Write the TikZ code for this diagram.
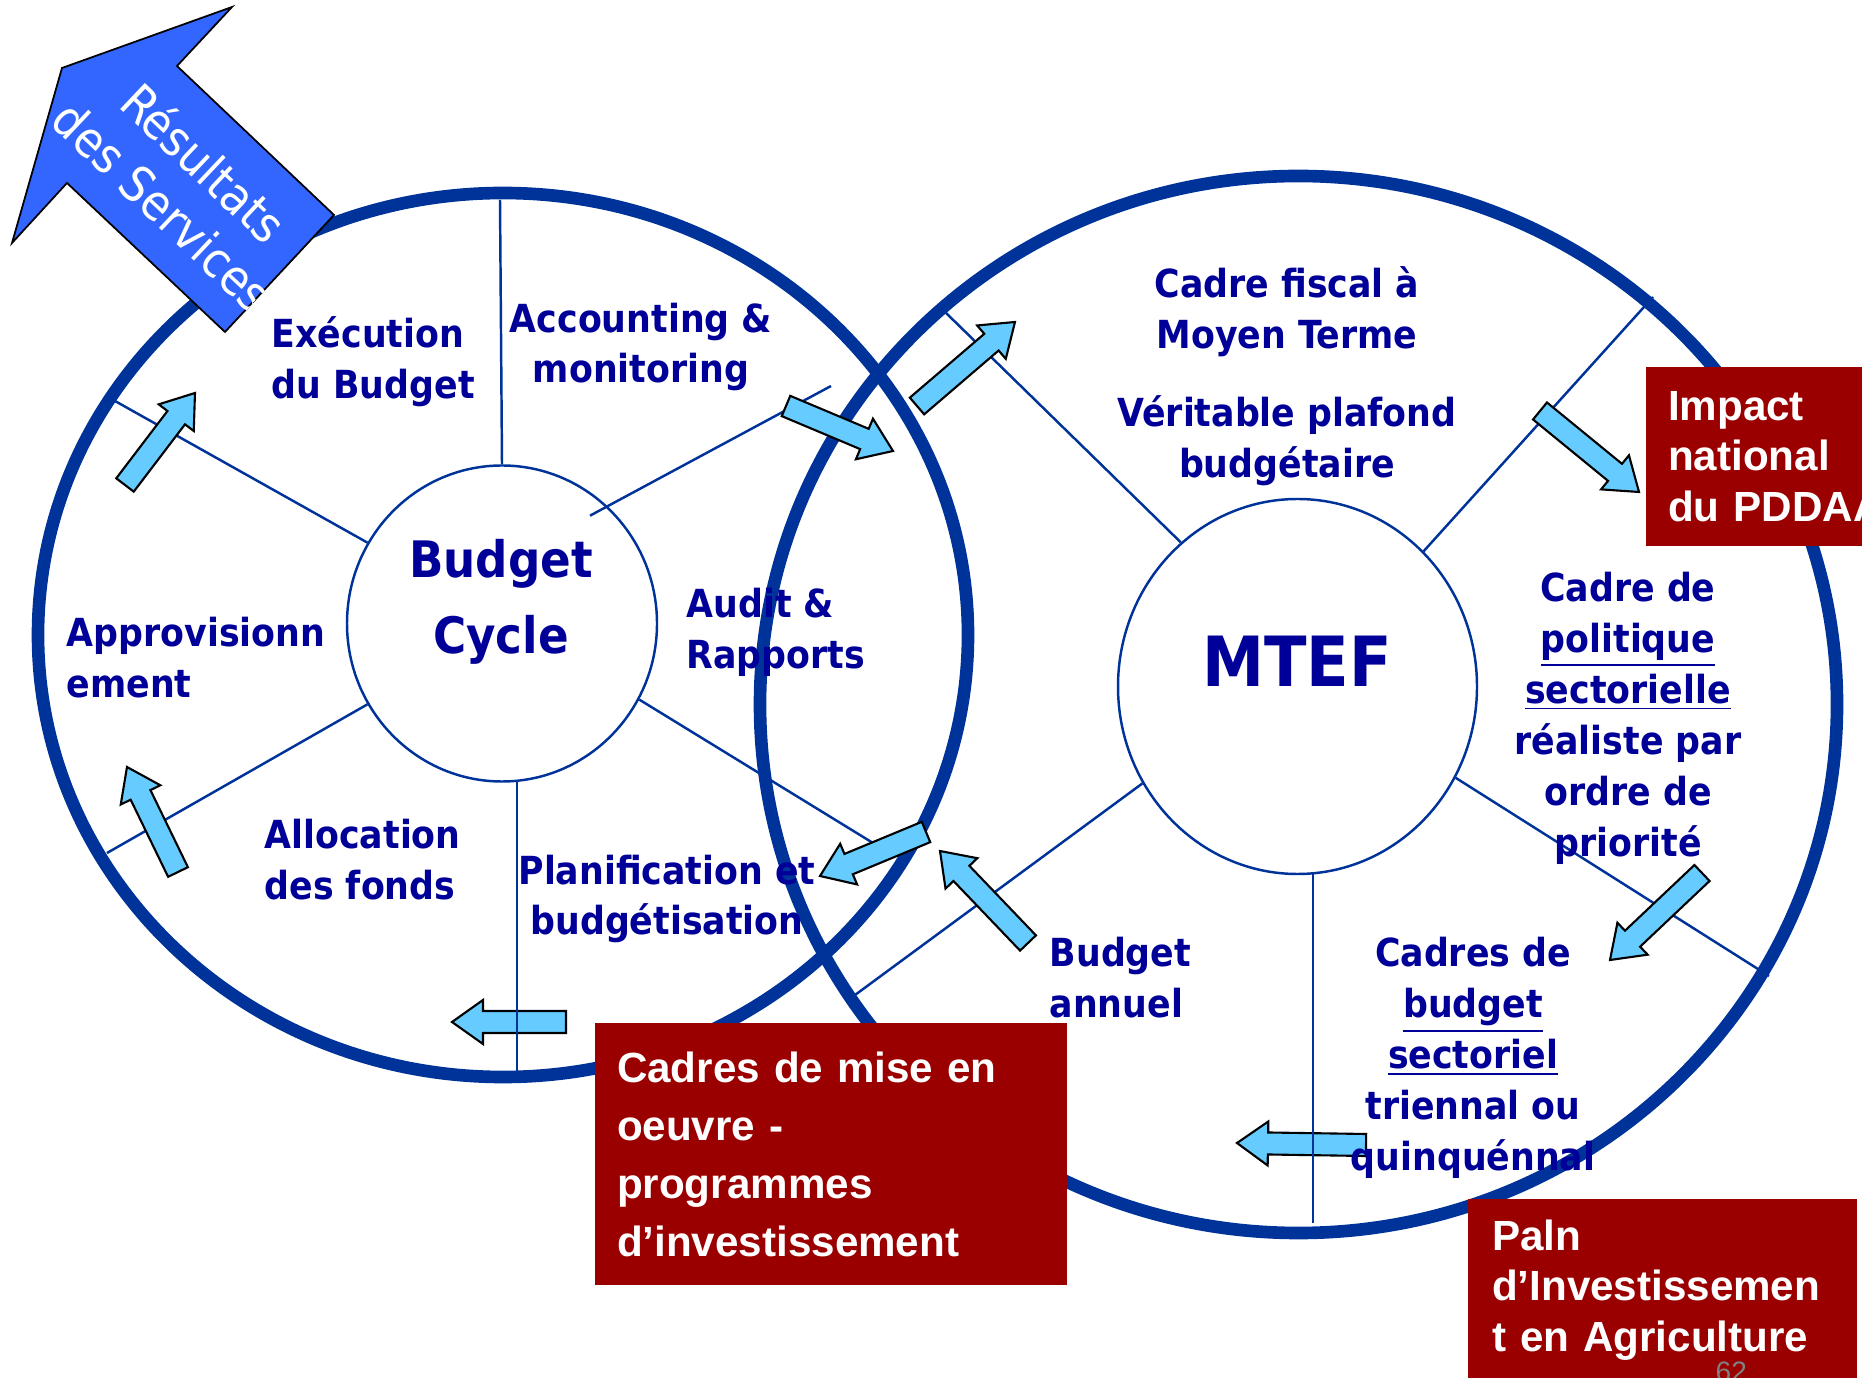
\documentclass[tikz,border=0pt]{standalone}
\usepackage{fontspec}
\usetikzlibrary{calc,shapes.geometric}
\newfontfamily\slidefont{DejaVu Sans Condensed}
\newfontfamily\boxfont{Liberation Sans}
\definecolor{ringblue}{RGB}{0,51,153}
\definecolor{textblue}{RGB}{0,0,153}
\definecolor{arrowfill}{RGB}{102,204,255}
\definecolor{resblue}{RGB}{51,102,255}
\definecolor{boxred}{RGB}{155,0,0}
\newcommand{\fahead}{0.31cm}
\newcommand{\fawing}{0.22cm}
\newcommand{\fashaft}{0.11cm}
\newcommand{\fatarrow}[2]{%
  \coordinate (fb) at ($(#2)!\fahead!(#1)$);
  \draw[fatarr] ($(#1)!\fashaft!90:(#2)$) -- ($(fb)!\fashaft!-90:(#1)$) -- ($(fb)!\fawing!-90:(#1)$) -- (#2)
    -- ($(fb)!\fawing!90:(#1)$) -- ($(fb)!\fashaft!90:(#1)$) -- ($(#1)!\fashaft!-90:(#2)$) -- cycle;}
\tikzset{
  ring/.style={draw=ringblue, line width=3.6pt},
  hub/.style={draw=ringblue, line width=0.7pt, ellipse, inner sep=0pt},
  spoke/.style={draw=ringblue, line width=0.7pt},
  lbl/.style={text=textblue, font=\slidefont\bfseries\fontsize{11}{14.5}\selectfont, inner sep=0pt},
  fatarr/.style={fill=arrowfill, draw=black, line width=0.6pt, line join=miter},
  resarr/.style={fill=resblue, draw=black, line width=0.5pt, line join=miter},
  redbox/.style={fill=boxred, text=white, font=\boxfont\bfseries\fontsize{12}{14.3}\selectfont, align=left}
}
\begin{document}
\begin{tikzpicture}[x=1cm,y=-1cm]
    \useasboundingbox (0,0) rectangle (18.62,13.78);
    \clip (0,0) rectangle (18.62,13.78);

    \coordinate (cL) at (5.03,6.35);
    \coordinate (cR) at (12.985,7.045);
    \draw[ring] (cL) ellipse [x radius=4.65, y radius=4.42];
    \draw[ring] (cR) ellipse [x radius=5.385, y radius=5.285];

    \coordinate (a3t) at (5.66,10.22);
    \coordinate (a3h) at (4.52,10.22);
    \coordinate (a8t) at (13.66,11.45);
    \coordinate (a8h) at (12.37,11.43);
    \fatarrow{a3t}{a3h}
    \fatarrow{a8t}{a8h}

    \node[hub, minimum width=3.10cm, minimum height=3.16cm] (hubL) at (5.02,6.235) {};
    \node[hub, minimum width=3.59cm, minimum height=3.75cm] (hubR) at (12.975,6.865) {};

    \coordinate (lT) at (5.00,2.00);
    \coordinate (lUL) at (1.15,4.01);
    \coordinate (lUR) at (8.31,3.86);
    \coordinate (lLL) at (1.07,8.53);
    \coordinate (lLR) at (8.73,8.43);
    \coordinate (lB) at (5.17,10.75);
    \coordinate (rUL) at (9.44,3.11);
    \coordinate (rUR) at (16.53,2.97);
    \coordinate (rLL) at (8.55,9.95);
    \coordinate (rLR) at (17.69,9.76);
    \coordinate (rB) at (13.13,12.23);

    \draw[spoke] (hubL.90) -- (lT);
    \draw[spoke] (hubL.149) -- (lUL);
    \draw[spoke] ($(hubL.48)!-0.2cm!(lUR)$) -- (lUR);
    \draw[spoke] (hubL.211) -- (lLL);
    \draw[spoke] (hubL.331) -- (lLR);
    \draw[spoke] (hubL.265 -| lB) -- (lB);
    \draw[spoke] (hubR.129) -- (rUL);
    \draw[spoke] (hubR.47) -- (rUR);
    \draw[spoke] (hubR.212) -- (rLL);
    \draw[spoke] (hubR.330) -- (rLR);
    \draw[spoke] (hubR.265 -| rB) -- (rB);

    \coordinate (a1t) at (1.25,4.85);
    \coordinate (a1h) at (1.95,3.93);
    \coordinate (a2t) at (1.78,8.72);
    \coordinate (a2h) at (1.27,7.67);
    \coordinate (a4t) at (7.86,4.06);
    \coordinate (a4h) at (8.93,4.51);
    \coordinate (a5t) at (9.17,4.06);
    \coordinate (a5h) at (10.15,3.22);
    \coordinate (a6t) at (15.40,4.11);
    \coordinate (a6h) at (16.39,4.92);
    \coordinate (a7t) at (17.02,8.73);
    \coordinate (a7h) at (16.10,9.60);
    \coordinate (a9t) at (10.28,9.43);
    \coordinate (a9h) at (9.40,8.51);
    \coordinate (a10t) at (9.26,8.32);
    \coordinate (a10h) at (8.20,8.76);
    \fatarrow{a1t}{a1h}
    \fatarrow{a2t}{a2h}
    \fatarrow{a4t}{a4h}
    \fatarrow{a5t}{a5h}
    \fatarrow{a6t}{a6h}
    \fatarrow{a7t}{a7h}
    \fatarrow{a9t}{a9h}
    \fatarrow{a10t}{a10h}

    \coordinate (r1) at (0.62,0.68);
    \coordinate (r2) at (2.32,0.07);
    \coordinate (r3) at (1.77,0.66);
    \coordinate (r4) at (3.34,2.15);
    \coordinate (r5) at (2.25,3.32);
    \coordinate (r6) at (0.67,1.83);
    \coordinate (r7) at (0.12,2.43);
    \draw[resarr] (r1) -- (r2) -- (r3) -- (r4) -- (r5) -- (r6) -- (r7) -- cycle;
    \begin{scope}
      \clip (r1) -- (r2) -- (r3) -- (r4) -- (r5) -- (r6) -- (r7) -- cycle;
      \node[rotate=-43.4, text=white, font=\slidefont\fontsize{14}{17}\selectfont, align=center, inner sep=0pt] (res) at (1.84,1.84) {Résultats\\des Services};
    \end{scope}

    \node[lbl, anchor=west, align=left] (exe) at (2.71,3.62) {Exécution\\du Budget};
    \node[lbl, align=center] (acc) at (6.41,3.47) {Accounting \&\\monitoring};
    \node[lbl, font=\slidefont\bfseries\fontsize{14.3}{21.6}\selectfont, align=center] (bcy) at (5.01,6.02) {Budget\\Cycle};
    \node[lbl, anchor=west, align=left] (aud) at (6.86,6.32) {Audit \&\\Rapports};
    \node[lbl, anchor=west, align=left] (app) at (0.66,6.58) {Approvisionn\\ement};
    \node[lbl, anchor=west, align=left] (all) at (2.64,8.60) {Allocation\\des fonds};
    \node[lbl, align=center] (pla) at (6.67,8.99) {Planification et\\budgétisation};
    \node[lbl, align=center] (cfm) at (12.87,3.12) {Cadre fiscal à\\Moyen Terme};
    \node[lbl, align=center] (vpb) at (12.87,4.41) {Véritable plafond\\budgétaire};
    \node[lbl, font=\slidefont\bfseries\fontsize{19.7}{24}\selectfont] (mtef) at (12.97,6.61) {MTEF};
    \node[lbl, align=center] (cps) at (16.28,7.18) {Cadre de\\\underline{politique}\\\underline{sectorielle}\\réaliste par\\ordre de\\priorité};
    \node[lbl, anchor=west, align=left] (ban) at (10.49,9.78) {Budget\\annuel};
    \node[lbl, align=center] (cbs) at (14.73,10.58) {Cadres de\\\underline{budget}\\\underline{sectoriel}\\triennal ou\\quinquénnal};

    \node[redbox, font=\boxfont\bfseries\fontsize{12}{16.5}\selectfont, minimum width=4.72cm, minimum height=2.62cm, text width=4.28cm, inner xsep=0.22cm] (cmo) at (8.31,11.54) {Cadres de mise en\\oeuvre -\\programmes\\d’investissement};
    \node[redbox, minimum width=2.6cm, minimum height=1.79cm, text width=2.16cm, inner xsep=0.22cm] (imp) at (17.76,4.565) {Impact\\national\\du PDDAA};
    \node[redbox, minimum width=3.89cm, minimum height=1.82cm, text width=3.41cm, inner xsep=0.24cm] (pia) at (16.625,12.90) {Paln\\d’Investissemen\\t en Agriculture};
    \node[text=gray, font=\boxfont\fontsize{8}{9}\selectfont, anchor=north west, inner sep=0pt] (pg) at (17.15,13.61) {62};
\end{tikzpicture}
\end{document}
